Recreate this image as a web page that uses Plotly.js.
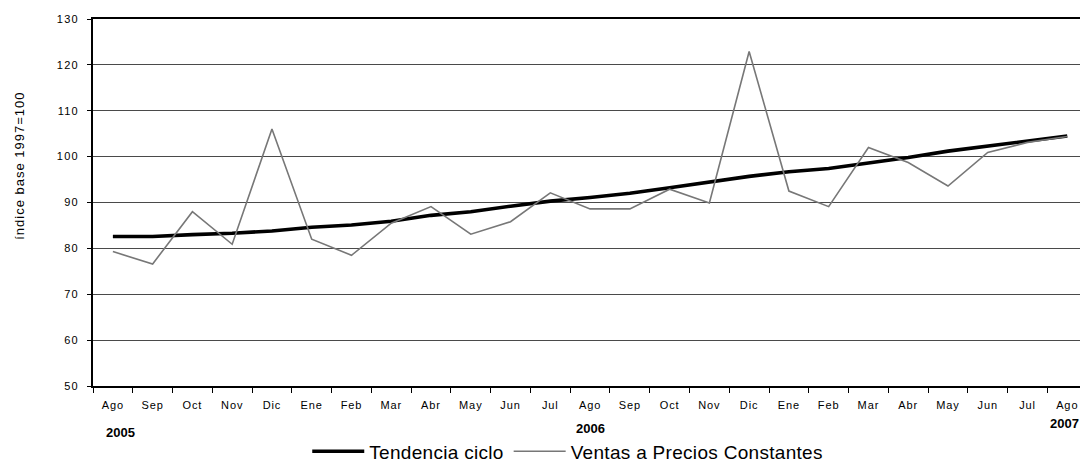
<!DOCTYPE html>
<html>
<head>
<meta charset="utf-8">
<script src="https://cdn.plot.ly/plotly-3.0.1.min.js"></script>
<style>
html,body{margin:0;padding:0;overflow:hidden;background:#fff;}
#chart{width:1080px;height:466px;}
.xtick text{letter-spacing:0.9px;}
.ytick text{letter-spacing:1.2px;}
.ytitle-ann text{letter-spacing:1px;}
.legendtext{letter-spacing:0.3px;}
</style>
</head>
<body>
<div id="chart"></div>
<script>
var months = ["Ago","Sep","Oct","Nov","Dic","Ene","Feb","Mar","Abr","May","Jun","Jul",
              "Ago","Sep","Oct","Nov","Dic","Ene","Feb","Mar","Abr","May","Jun","Jul","Ago"];
var yearLabels = ["2005","2006","2007"];
var yearLabelIndex = [0, 12, 24];

var tendencia = [82.6,82.6,83.0,83.3,83.8,84.6,85.1,85.9,87.2,88.0,89.2,90.3,
                 91.1,92.0,93.2,94.4,95.7,96.7,97.4,98.6,99.8,101.2,102.3,103.4,104.5];
var ventas = [79.3,76.6,88.0,80.9,106.0,82.0,78.5,85.5,89.1,83.1,85.8,92.1,
              88.6,88.6,92.9,89.9,122.9,92.5,89.1,102.0,98.7,93.6,100.9,103.1,104.4];

var yTicks = [50,60,70,80,90,100,110,120,130];
var idx = months.map(function(m,i){return i;});

var fontFam = '"Liberation Sans", Arial, sans-serif';

var traces = [
  {x: idx, y: tendencia, type: 'scatter', mode: 'lines', name: 'Tendencia ciclo',
   line: {color: '#000000', width: 3.6}},
  {x: idx, y: ventas, type: 'scatter', mode: 'lines', name: 'Ventas a Precios Constantes',
   line: {color: '#777777', width: 1.6}}
];

var annotations = [
  {text: 'índice base 1997=100', xref: 'paper', yref: 'paper', x: -0.074, y: 0.60,
   textangle: -90, showarrow: false, xanchor: 'center', yanchor: 'middle',
   font: {family: fontFam, size: 13, color: '#000'}}
];
var yearY = [-0.126, -0.115, -0.101];
var yearShift = [8, 0, -3];
yearLabels.forEach(function(t, k){
  annotations.push({text: '<b>' + t + '</b>', xref: 'x', yref: 'paper',
    x: yearLabelIndex[k], y: yearY[k], xshift: yearShift[k], showarrow: false,
    xanchor: 'center', yanchor: 'middle',
    font: {family: fontFam, size: 13, color: '#000'}});
});

var layout = {
  width: 1080, height: 466,
  margin: {l: 93, r: 0, t: 19, b: 80, pad: 0, autoexpand: false},
  paper_bgcolor: '#ffffff', plot_bgcolor: '#ffffff',
  font: {family: fontFam, color: '#000'},
  showlegend: true,
  legend: {orientation: 'h', x: 0.481, xanchor: 'center', y: -0.178, yanchor: 'middle',
           font: {family: fontFam, size: 19, color: '#000'}, itemwidth: 52,
           traceorder: 'normal', bgcolor: 'rgba(0,0,0,0)'},
  xaxis: {
    range: [-0.5, 24.32], tickmode: 'array', tickvals: idx, ticktext: months,
    ticks: '', showgrid: false, zeroline: false, automargin: false,
    showline: true, linecolor: '#000', linewidth: 2, mirror: true,
    tickfont: {family: fontFam, size: 11, color: '#000'},
    ticklabelstandoff: 8,
    minor: {tickmode: 'linear', tick0: -0.5, dtick: 1, ticks: 'outside', ticklen: 5,
            tickcolor: '#000', tickwidth: 1, showgrid: false}
  },
  yaxis: {
    range: [50, 130], tickmode: 'array', tickvals: yTicks, automargin: false,
    ticks: 'outside', ticklen: 4, tickcolor: '#000', tickwidth: 1,
    showgrid: true, gridcolor: '#4a4a4a', gridwidth: 1, zeroline: false,
    showline: true, linecolor: '#000', linewidth: 2,
    tickfont: {family: fontFam, size: 11, color: '#000'},
    ticklabelstandoff: 6
  },
  annotations: annotations
};

Plotly.newPlot('chart', traces, layout, {displayModeBar: false, staticPlot: true}).then(function(){
  var ann = document.querySelectorAll('.annotation');
  if (ann.length) ann[0].classList.add('ytitle-ann');
});
</script>
</body>
</html>
